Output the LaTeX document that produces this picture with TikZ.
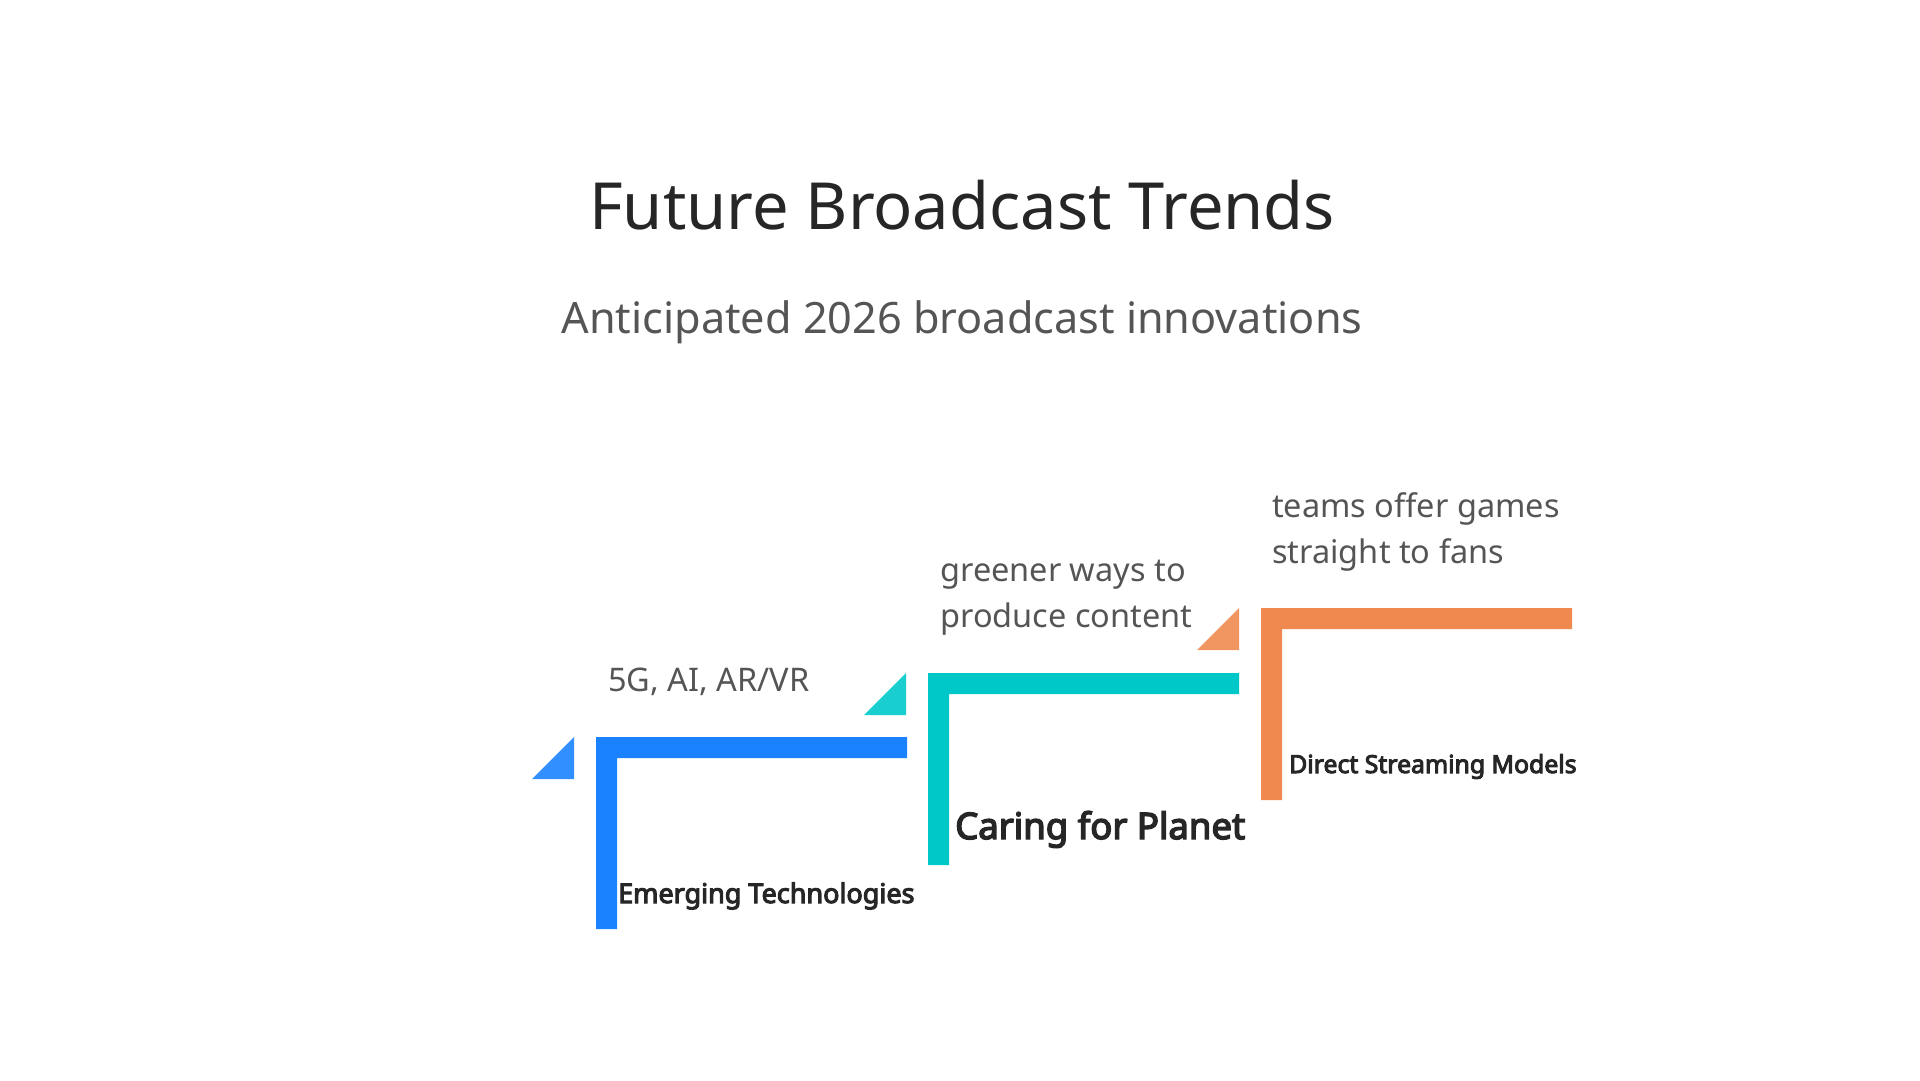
\documentclass[tikz,border=0pt]{standalone}
\usepackage{fontspec}
\setmainfont{Noto Sans}[AutoFakeBold=4]
\usetikzlibrary{positioning}
\definecolor{titcol}{HTML}{262626}
\definecolor{subcol}{HTML}{555555}
\definecolor{bluecol}{HTML}{1A82FF}
\definecolor{tealcol}{HTML}{00C8C8}
\definecolor{orgcol}{HTML}{F0894F}
\tikzset{
  note/.style={inner sep=0pt,anchor=base west,align=left,text=subcol,font=\fontsize{32.5}{46}\selectfont},
  steplabel/.style={inner sep=0pt,anchor=base west,text=titcol},
}

\begin{document}
\begin{tikzpicture}[x=1pt,y=-1pt]
		\useasboundingbox (0,0) rectangle (1920,1080);
		\node (title) at (962,229) [inner sep=0pt,anchor=base,text=titcol,font=\fontsize{65}{76}\selectfont] {Future Broadcast Trends};
		\node (subtitle) at (962,333) [inner sep=0pt,anchor=base,text=subcol,font=\fontsize{43.2}{50}\selectfont] {Anticipated 2026 broadcast innovations};
		% steps: color, left x, top y
		\foreach \col/\bx/\by in {bluecol/596/737,tealcol/928/673,orgcol/1261/608}{
			\fill[\col!90!white] (\bx-22,\by) -- (\bx-22,\by+42) -- (\bx-64,\by+42) -- cycle;
			\fill[\col] (\bx,\by) -- (\bx+311,\by) -- (\bx+311,\by+21) -- (\bx+21,\by+21)
			  -- (\bx+21,\by+192) -- (\bx,\by+192) -- cycle;
		}
		\node (emerg) at (618,903) [steplabel,font=\bfseries\fontsize{27}{30}\selectfont] {Emerging Technologies};
		\node (planet) at (955,839) [steplabel,font=\bfseries\fontsize{36.5}{40}\selectfont] {Caring for Planet};
		\node (direct) at (1289,773) [steplabel,font=\bfseries\fontsize{24.8}{28}\selectfont] {Direct Streaming Models};
		\node (emergnote) at (608,691) [note] {5G, AI, AR/VR};
		\node (planetnote) at (940,627) [note] {greener ways to\\produce content};
		\node (directnote) at (1272,563) [note] {teams offer games\\straight to fans};
	\end{tikzpicture}
\end{document}
